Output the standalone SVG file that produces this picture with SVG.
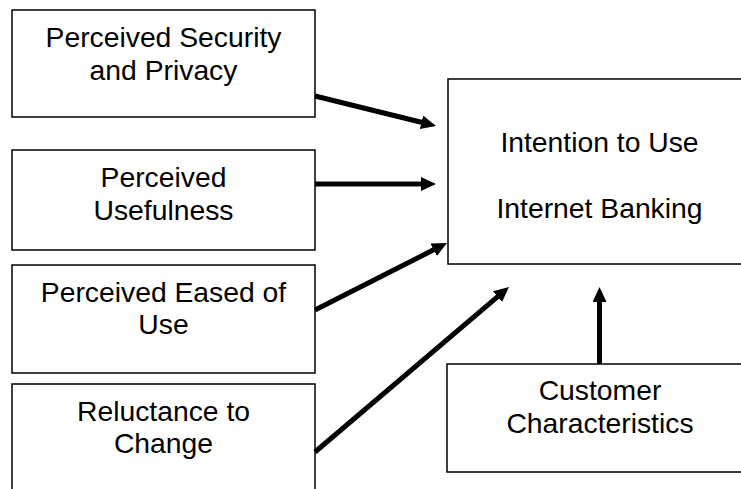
<svg xmlns="http://www.w3.org/2000/svg" width="741" height="489" viewBox="0 0 741 489">
<style>
.box{fill:#fff;stroke:#000;stroke-width:1.5}
.t{font-family:"Liberation Sans",Arial,sans-serif;font-size:28.3px;fill:#000;text-anchor:middle}
.c{stroke:#000;stroke-width:5;fill:none}
</style>
<defs>
<marker id="ah" markerUnits="userSpaceOnUse" markerWidth="15" markerHeight="14" refX="6" refY="7" orient="auto" viewBox="0 0 15 14">
<path d="M0,0 L15,7 L0,14 z" fill="#000"/>
</marker>
</defs>
<rect width="741" height="489" fill="#fff"/>
<g id="n1"><rect class="box" x="12" y="10" width="303" height="107"/><text class="t" x="163.5" y="47">Perceived Security</text><text class="t" x="163.5" y="80">and Privacy</text></g>
<g id="n2"><rect class="box" x="12" y="150" width="303" height="100"/><text class="t" x="163.5" y="187">Perceived</text><text class="t" x="163.5" y="220">Usefulness</text></g>
<g id="n3"><rect class="box" x="12" y="265" width="303" height="108"/><text class="t" x="163.5" y="302">Perceived Eased of</text><text class="t" x="163.5" y="334">Use</text></g>
<g id="n4"><rect class="box" x="12" y="384" width="303" height="120"/><text class="t" x="163.5" y="421">Reluctance to</text><text class="t" x="163.5" y="453">Change</text></g>
<g id="n5"><rect class="box" x="448" y="79" width="303" height="185"/><text class="t" x="599.5" y="152">Intention to Use</text><text class="t" x="599.5" y="218">Internet Banking</text></g>
<g id="n6"><rect class="box" x="447" y="364" width="306" height="108"/><text class="t" x="600" y="400">Customer</text><text class="t" x="600" y="433">Characteristics</text></g>
<g id="connectors">
<line class="c" x1="315" y1="96" x2="427.3" y2="123.8" marker-end="url(#ah)"/>
<line class="c" x1="315" y1="184" x2="427" y2="184" marker-end="url(#ah)"/>
<line class="c" x1="315" y1="310" x2="439" y2="247.1" marker-end="url(#ah)"/>
<line class="c" x1="315" y1="452" x2="502.1" y2="292.8" marker-end="url(#ah)"/>
<line class="c" x1="599.5" y1="364" x2="599.5" y2="296" marker-end="url(#ah)"/>
</g>
</svg>
